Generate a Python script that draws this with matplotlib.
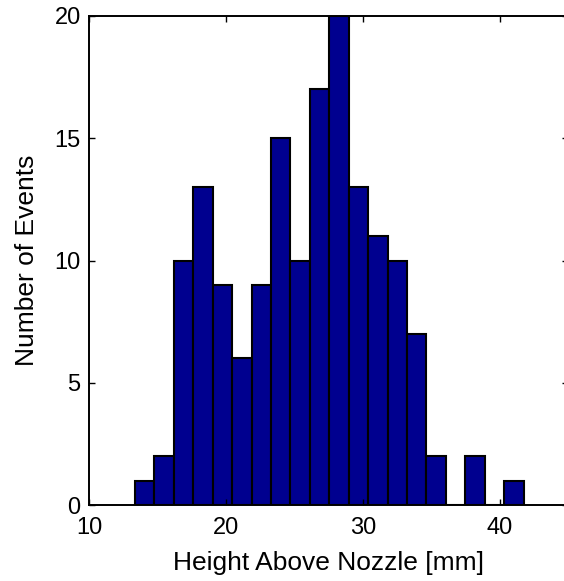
import matplotlib
matplotlib.use("Agg")
import matplotlib.pyplot as plt
import numpy as np

# histogram counts (20 equal bins)
counts = [1, 2, 10, 13, 9, 6, 9, 15, 10, 17, 20, 13, 11, 10, 7, 2, 0, 2, 0, 1]
bin_start = 13.36
bin_end = 41.76

plt.rcParams['font.family'] = ['Liberation Sans', 'DejaVu Sans']

fig = plt.figure(figsize=(5.64, 5.81), dpi=100)
ax = fig.add_axes([89 / 564, 1 - 505 / 581, (568 - 89) / 564, (505 - 16) / 581])

edges = np.linspace(bin_start, bin_end, len(counts) + 1)
ax.bar(edges[:-1], counts, width=np.diff(edges), align='edge',
       color='#00008F', edgecolor='black', linewidth=1.5)

ax.set_xlim(10, 45)
ax.set_ylim(0, 20)
ax.set_xticks([10, 20, 30, 40])
ax.set_yticks([0, 5, 10, 15, 20])
ax.tick_params(direction='in', top=True, right=True, length=4, width=1,
               labelsize=17)
ax.tick_params(axis='x', pad=9)
ax.tick_params(axis='y', pad=6)
for s in ax.spines.values():
    s.set_linewidth(1.4)
ax.set_xlabel("Height Above Nozzle [mm]", fontsize=19, labelpad=8)
ax.set_ylabel("Number of Events", fontsize=19, labelpad=11)

fig.savefig("out.png", dpi=100)
